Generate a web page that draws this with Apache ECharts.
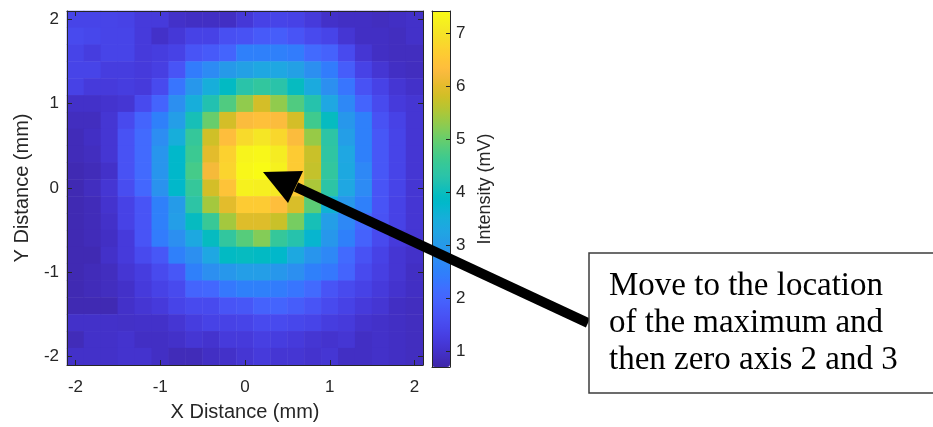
<!DOCTYPE html>
<html><head><meta charset="utf-8">
<script src="https://cdn.jsdelivr.net/npm/echarts@6/dist/echarts.min.js"></script>
<style>html,body{margin:0;padding:0;background:#fff}#c{width:933px;height:427px}</style>
</head><body><div id="c"></div>
<script>
// ---- data ----
const xValues = ['-2.0','-1.8','-1.6','-1.4','-1.2','-1.0','-0.8','-0.6','-0.4','-0.2','0.0','0.2','0.4','0.6','0.8','1.0','1.2','1.4','1.6','1.8','2.0'];
// rows listed from top (y = 2.0) to bottom (y = -2.0)
const yValues = ['2.0','1.8','1.6','1.4','1.2','1.0','0.8','0.6','0.4','0.2','0.0','-0.2','-0.4','-0.6','-0.8','-1.0','-1.2','-1.4','-1.6','-1.8','-2.0'];
const axisTickLabels = ['-2','-1','0','1','2'];
const colorbarTicks = [1,2,3,4,5,6,7];
const intensityMin = 0.7, intensityMax = 7.42;
const intensityRows = [
 [1.4,1.4,1.4,1.35,1.2,1.2,1.0,0.95,0.95,0.95,1.15,1.35,1.4,1.35,1.2,1.0,0.95,0.95,0.9,0.95,1.0],
 [1.5,1.45,1.4,1.4,1.2,1.0,1.15,1.35,1.35,1.6,1.65,1.8,1.85,1.7,1.5,1.4,1.1,0.95,0.95,0.9,1.0],
 [1.4,1.25,1.4,1.4,1.2,1.25,1.35,1.7,1.8,2.0,2.5,2.5,2.5,2.4,2.1,1.95,1.5,1.1,0.95,0.9,0.9],
 [1.4,1.4,1.25,1.25,1.2,1.3,1.7,2.4,2.7,3.0,3.15,3.3,3.3,3.15,2.8,2.4,1.85,1.35,1.1,0.95,0.9],
 [1.35,1.2,1.2,1.25,1.2,1.5,2.3,2.95,3.5,3.9,4.3,4.45,4.3,3.95,3.4,2.8,2.3,1.65,1.35,1.1,1.0],
 [1.0,1.0,1.05,1.1,1.5,2.0,2.8,3.5,4.2,4.8,5.3,5.85,5.3,4.8,4.25,3.3,2.65,2.0,1.5,1.2,1.1],
 [0.9,0.9,1.1,1.5,2.0,2.5,3.1,4.1,5.0,5.85,6.3,6.4,6.3,5.85,4.65,3.95,2.95,2.5,1.65,1.35,1.1],
 [0.85,0.95,1.1,1.65,2.1,2.75,3.5,4.5,5.8,6.35,6.85,7.05,6.8,6.3,5.35,4.35,3.1,2.5,1.75,1.4,1.1],
 [0.85,0.9,1.1,1.65,2.1,2.9,3.8,4.6,6.0,6.7,7.3,7.35,7.15,6.6,5.75,4.4,3.3,2.5,1.75,1.4,1.1],
 [0.8,0.85,1.0,1.65,2.1,2.9,3.8,4.7,6.2,6.75,7.35,7.42,7.25,6.6,5.7,4.45,3.35,2.65,1.75,1.4,1.1],
 [0.8,0.9,1.1,1.55,2.05,2.85,3.8,4.5,5.85,6.45,7.25,7.2,7.1,6.6,5.5,4.35,3.3,2.7,1.7,1.4,1.1],
 [0.8,0.85,1.05,1.35,1.7,2.5,3.05,4.35,5.45,6.0,6.6,6.6,6.35,5.9,4.9,3.6,2.95,2.5,1.7,1.35,1.1],
 [0.8,0.85,1.0,1.35,1.7,2.5,3.1,3.95,4.55,5.45,5.95,5.95,5.75,5.1,4.1,3.1,2.65,2.1,1.65,1.35,1.1],
 [0.8,0.85,0.95,1.2,1.7,2.4,2.8,3.35,3.95,4.45,4.85,5.2,4.5,4.25,3.7,2.95,2.5,1.95,1.5,1.2,1.1],
 [0.8,0.8,1.0,1.2,1.5,1.75,2.5,2.8,3.3,3.9,3.95,3.9,3.8,3.35,2.9,2.65,2.1,1.65,1.35,1.1,1.0],
 [0.8,0.85,0.9,1.1,1.25,1.5,1.75,2.5,2.8,2.95,3.1,3.1,2.95,2.8,2.5,2.35,2.0,1.5,1.3,1.1,0.95],
 [0.8,0.85,0.9,1.0,1.2,1.35,1.5,2.0,2.05,2.35,2.5,2.5,2.4,2.3,2.1,1.7,1.5,1.35,1.2,1.05,0.95],
 [0.8,0.8,0.8,1.0,1.1,1.2,1.4,1.5,1.5,1.7,1.75,1.95,2.0,1.85,1.7,1.5,1.35,1.2,1.1,0.95,0.9],
 [1.0,1.0,1.0,0.98,1.0,1.0,1.1,1.25,1.35,1.35,1.4,1.5,1.5,1.45,1.4,1.25,1.2,1.05,1.0,0.95,0.9],
 [0.85,1.0,1.0,1.05,0.95,0.95,1.0,1.1,1.05,1.2,1.2,1.3,1.25,1.2,1.1,1.05,1.1,0.95,1.0,0.95,0.9],
 [1.0,1.0,1.0,1.05,1.05,0.95,0.85,0.85,0.95,1.0,1.1,1.2,1.1,1.1,1.05,1.1,0.95,0.95,1.0,0.95,0.9]
];
const noteText = 'Move to the location\nof the maximum and\nthen zero axis 2 and 3';

// ---- parula colormap (style) ----
const parula = [
[0.2422,0.1504,0.6603],[0.2504,0.1650,0.7076],[0.2578,0.1818,0.7511],[0.2647,0.1978,0.7952],
[0.2706,0.2147,0.8364],[0.2751,0.2342,0.8710],[0.2783,0.2559,0.8991],[0.2803,0.2782,0.9221],
[0.2813,0.3006,0.9414],[0.2810,0.3228,0.9579],[0.2795,0.3447,0.9717],[0.2760,0.3667,0.9829],
[0.2699,0.3892,0.9906],[0.2602,0.4123,0.9952],[0.2440,0.4358,0.9988],[0.2206,0.4603,0.9973],
[0.1963,0.4847,0.9892],[0.1834,0.5074,0.9798],[0.1786,0.5289,0.9682],[0.1764,0.5499,0.9520],
[0.1687,0.5703,0.9359],[0.1540,0.5902,0.9218],[0.1460,0.6091,0.9079],[0.1380,0.6276,0.8973],
[0.1248,0.6459,0.8883],[0.1113,0.6635,0.8763],[0.0952,0.6798,0.8598],[0.0689,0.6948,0.8394],
[0.0297,0.7082,0.8163],[0.0036,0.7203,0.7917],[0.0067,0.7312,0.7660],[0.0433,0.7411,0.7394],
[0.0964,0.7500,0.7120],[0.1408,0.7584,0.6842],[0.1717,0.7670,0.6554],[0.1938,0.7758,0.6251],
[0.2161,0.7843,0.5923],[0.2470,0.7918,0.5567],[0.2906,0.7973,0.5188],[0.3406,0.8008,0.4789],
[0.3909,0.8029,0.4354],[0.4456,0.8024,0.3909],[0.5044,0.7993,0.3480],[0.5616,0.7942,0.3045],
[0.6174,0.7876,0.2612],[0.6720,0.7793,0.2227],[0.7242,0.7698,0.1910],[0.7738,0.7598,0.1646],
[0.8203,0.7498,0.1535],[0.8634,0.7406,0.1596],[0.9035,0.7330,0.1774],[0.9393,0.7288,0.2100],
[0.9728,0.7298,0.2394],[0.9956,0.7434,0.2371],[0.9970,0.7659,0.2199],[0.9952,0.7893,0.2028],
[0.9892,0.8136,0.1885],[0.9786,0.8386,0.1766],[0.9676,0.8639,0.1643],[0.9610,0.8890,0.1537],
[0.9597,0.9135,0.1423],[0.9628,0.9373,0.1265],[0.9691,0.9606,0.1064],[0.9769,0.9839,0.0805]
].map(c => '#' + c.map(v => Math.round(v*255).toString(16).padStart(2,'0')).join(''));

// ---- build ----
const heatData = [];
intensityRows.forEach((row, r) => row.forEach((v, c) => heatData.push([c, r, v])));

const ink = '#262626';
const sans = '"Liberation Sans", Arial, Helvetica, sans-serif';
const tickFont = 17, titleFont = 20;
const isMajor = (i, v) => { const n = parseFloat(v); return Math.abs(n - Math.round(n)) < 1e-6; };
const fmtMajor = v => { const n = Math.round(parseFloat(v)); const s = axisTickLabels.find(t => Number(t) === n); return s === undefined ? '' : s; };

const catAxis = (extra) => Object.assign({
  type: 'category', z: 5,
  axisLine: { show: true, onZero: false, lineStyle: { color: ink, width: 1 } },
  axisTick: { show: true, inside: true, length: 5, alignWithLabel: true, interval: isMajor, lineStyle: { color: ink, width: 1 } },
  splitLine: { show: false }
}, extra);

const chart = echarts.init(document.getElementById('c'), null, { renderer: 'canvas' });
chart.setOption({
  animation: false,
  backgroundColor: '#fff',
  grid: [
    { left: 67, top: 11, width: 356, height: 356 },
    { left: 432, top: 11, width: 18, height: 356 }
  ],
  xAxis: [
    catAxis({ gridIndex: 0, position: 'bottom', data: xValues,
      axisLabel: { interval: isMajor, formatter: fmtMajor, fontSize: tickFont, color: ink, fontFamily: sans, margin: 14 },
      name: 'X Distance (mm)', nameLocation: 'middle', nameGap: 37,
      nameTextStyle: { fontSize: titleFont, color: ink, fontFamily: sans } }),
    catAxis({ gridIndex: 0, position: 'top', data: xValues, axisLabel: { show: false } }),
    { gridIndex: 1, type: 'value', position: 'bottom', min: 0, max: 1, z: 10,
      axisLine: { show: true, onZero: false, lineStyle: { color: ink, width: 1 } },
      axisTick: { show: false }, axisLabel: { show: false }, splitLine: { show: false } },
    { gridIndex: 1, type: 'value', position: 'top', min: 0, max: 1, z: 10,
      axisLine: { show: true, onZero: false, lineStyle: { color: ink, width: 1 } },
      axisTick: { show: false }, axisLabel: { show: false }, splitLine: { show: false } }
  ],
  yAxis: [
    catAxis({ gridIndex: 0, position: 'left', inverse: true, data: yValues,
      axisLabel: { interval: isMajor, formatter: fmtMajor, fontSize: tickFont, color: ink, fontFamily: sans, margin: 8 },
      name: 'Y Distance (mm)', nameLocation: 'middle', nameGap: 35,
      nameTextStyle: { fontSize: titleFont, color: ink, fontFamily: sans } }),
    catAxis({ gridIndex: 0, position: 'right', inverse: true, data: yValues, axisLabel: { show: false } }),
    { gridIndex: 1, type: 'value', position: 'right', min: intensityMin, max: intensityMax, z: 10,
      axisLine: { show: true, onZero: false, lineStyle: { color: ink, width: 1 } },
      axisTick: { show: true, inside: true, length: 4, customValues: colorbarTicks, lineStyle: { color: ink } },
      axisLabel: { customValues: colorbarTicks, fontSize: tickFont, color: ink, fontFamily: sans, margin: 6 },
      splitLine: { show: false },
      name: 'Intensity (mV)', nameLocation: 'middle', nameGap: 26,
      nameTextStyle: { fontSize: 18, color: ink, fontFamily: sans } },
    { gridIndex: 1, type: 'value', position: 'left', min: intensityMin, max: intensityMax, z: 10,
      axisLine: { show: true, onZero: false, lineStyle: { color: ink, width: 1 } },
      axisTick: { show: false }, axisLabel: { show: false }, splitLine: { show: false } }
  ],
  visualMap: {
    type: 'continuous', min: intensityMin, max: intensityMax, dimension: 2, seriesIndex: 0,
    inRange: { color: parula }, orient: 'vertical', left: 432, top: 11,
    itemWidth: 18, itemHeight: 356, calculable: false, padding: 0, hoverLink: false, show: true
  },
  series: [{
    type: 'heatmap', xAxisIndex: 0, yAxisIndex: 0, data: heatData,
    emphasis: { disabled: true }, progressive: 0
  }],
  graphic: [
    { type: 'line', z: 50, shape: { x1: 588, y1: 323, x2: 296, y2: 187 },
      style: { stroke: '#000', lineWidth: 10, lineCap: 'butt' } },
    { type: 'polygon', z: 50, shape: { points: [[263, 172], [303, 171], [288, 203]] },
      style: { fill: '#000' } },
    { type: 'rect', z: 60, shape: { x: 589, y: 253, width: 360, height: 140 },
      style: { fill: '#fff', stroke: '#3c3c3c', lineWidth: 1.5 } },
    { type: 'text', z: 61, x: 609, y: 267.5,
      style: { text: noteText, font: '33px "Liberation Serif", "Times New Roman", serif',
        lineHeight: 37, fill: '#000', verticalAlign: 'top', align: 'left' } }
  ]
});
</script></body></html>
